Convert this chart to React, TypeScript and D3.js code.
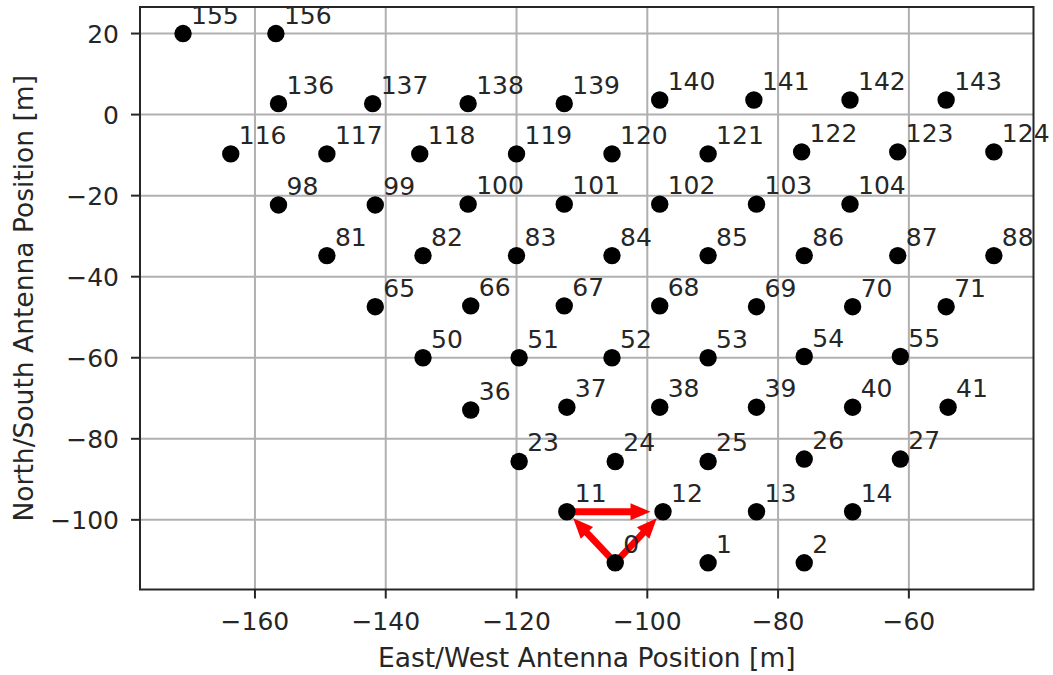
import React from "react";
import * as d3 from "d3";

// Antenna numbers and their East/West, North/South positions in metres
const antennaIds = [
  0, 1, 2, 11, 12, 13, 14, 23, 24, 25, 26, 27, 36, 37, 38, 39, 40, 41,
  50, 51, 52, 53, 54, 55, 65, 66, 67, 68, 69, 70, 71,
  81, 82, 83, 84, 85, 86, 87, 88, 98, 99, 100, 101, 102, 103, 104,
  116, 117, 118, 119, 120, 121, 122, 123, 124,
  136, 137, 138, 139, 140, 141, 142, 143, 155, 156,
];
const eastPos = [
  -104.9, -90.7, -76.0, -112.3, -97.6, -83.3, -68.6, -119.6, -104.9, -90.7, -76.0, -61.3,
  -127.0, -112.3, -98.1, -83.3, -68.6, -54.0,
  -134.3, -119.6, -105.4, -90.7, -76.0, -61.3,
  -141.6, -127.0, -112.7, -98.1, -83.3, -68.6, -54.3,
  -149.0, -134.3, -120.0, -105.4, -90.7, -76.0, -61.7, -47.0,
  -156.4, -141.6, -127.4, -112.7, -98.1, -83.3, -69.0,
  -163.7, -149.0, -134.8, -120.0, -105.4, -90.7, -76.4, -61.7, -47.0,
  -156.4, -142.0, -127.4, -112.7, -98.1, -83.7, -69.0, -54.3,
  -171.0, -156.8,
];
const northPos = [
  -110.6, -110.6, -110.6, -98.0, -98.0, -98.0, -98.0, -85.6, -85.6, -85.6, -85.0, -85.0,
  -72.9, -72.2, -72.2, -72.2, -72.2, -72.2,
  -60.0, -60.0, -60.0, -60.0, -59.7, -59.7,
  -47.4, -47.2, -47.2, -47.2, -47.4, -47.4, -47.4,
  -34.8, -34.8, -34.8, -34.8, -34.8, -34.8, -34.8, -34.8,
  -22.3, -22.3, -22.1, -22.1, -22.1, -22.1, -22.1,
  -9.7, -9.7, -9.7, -9.7, -9.7, -9.7, -9.2, -9.2, -9.2,
  2.7, 2.7, 2.7, 2.7, 3.6, 3.6, 3.6, 3.6,
  20.0, 20.0,
];

// Baselines highlighted with arrows: [from antenna, to antenna]
const baselineArrows: [number, number][] = [
  [0, 11],
  [11, 12],
  [0, 12],
];

const xTicks = [-160, -140, -120, -100, -80, -60];
const yTicks = [-100, -80, -60, -40, -20, 0, 20];

const W = 1053;
const H = 675;
const plot = { left: 140, top: 7, right: 1033.5, bottom: 589.5 };
const FONT = "'DejaVu Sans', sans-serif";
const TEXT = "#262626";

const minus = (v: number) => String(v).replace("-", "\u2212");

export default function App() {
  const x = d3.scaleLinear().domain([-177.58, -40.94]).range([plot.left, plot.right]);
  const y = d3.scaleLinear().domain([26.55, -117.19]).range([plot.top, plot.bottom]);

  const pos = (id: number) => {
    const i = antennaIds.indexOf(id);
    return [x(eastPos[i]), y(northPos[i])];
  };

  // Arrow polygon: shaft then triangular head, stopping short of the target
  const arrowPath = (a: number, b: number) => {
    const [x0, y0] = pos(a);
    const [x1, y1] = pos(b);
    const frac = 0.87;
    const dx = (x1 - x0) * frac;
    const dy = (y1 - y0) * frac;
    const len = Math.hypot(dx, dy);
    const ux = dx / len;
    const uy = dy / len;
    const px = -uy;
    const py = ux;
    const w = 3.4;
    const hw = 8.5;
    const hl = 20;
    const tx = x0 + dx;
    const ty = y0 + dy;
    const bx = tx - ux * hl;
    const by = ty - uy * hl;
    const pts = [
      [x0 + px * w, y0 + py * w],
      [bx + px * w, by + py * w],
      [bx + px * hw, by + py * hw],
      [tx, ty],
      [bx - px * hw, by - py * hw],
      [bx - px * w, by - py * w],
      [x0 - px * w, y0 - py * w],
    ];
    return d3.line()(pts as [number, number][]) + "Z";
  };

  return (
    <svg width={W} height={H} style={{ display: "block", position: "absolute", left: 0, top: 0 }}>
      <rect width={W} height={H} fill="#fff" />
      {/* grid */}
      <g stroke="#b0b0b0" strokeWidth={2}>
        {xTicks.map((t) => (
          <line key={"gx" + t} x1={x(t)} x2={x(t)} y1={plot.top} y2={plot.bottom} />
        ))}
        {yTicks.map((t) => (
          <line key={"gy" + t} x1={plot.left} x2={plot.right} y1={y(t)} y2={y(t)} />
        ))}
      </g>
      {/* baseline arrows */}
      <g fill="#ff0000">
        {baselineArrows.map(([a, b]) => (
          <path key={a + "-" + b} d={arrowPath(a, b)} />
        ))}
      </g>
      {/* antennas */}
      <g fill="#000">
        {antennaIds.map((id, i) => (
          <circle key={id} cx={x(eastPos[i])} cy={y(northPos[i])} r={8.7} />
        ))}
      </g>
      {/* antenna labels */}
      <g fontFamily={FONT} fontSize={25} fill={TEXT}>
        {antennaIds.map((id, i) => (
          <text key={id} x={x(eastPos[i]) + 8} y={y(northPos[i]) - 10}>
            {id}
          </text>
        ))}
      </g>
      {/* frame */}
      <rect
        x={plot.left}
        y={plot.top}
        width={plot.right - plot.left}
        height={plot.bottom - plot.top}
        fill="none"
        stroke="#262626"
        strokeWidth={2}
      />
      {/* axes */}
      <g fontFamily={FONT} fontSize={25} fill={TEXT}>
        {xTicks.map((t) => (
          <g key={"xt" + t}>
            <line x1={x(t)} x2={x(t)} y1={plot.bottom} y2={plot.bottom + 9} stroke="#262626" strokeWidth={2} />
            <text x={x(t)} y={630} textAnchor="middle">
              {minus(t)}
            </text>
          </g>
        ))}
        {yTicks.map((t) => (
          <g key={"yt" + t}>
            <line x1={plot.left - 9} x2={plot.left} y1={y(t)} y2={y(t)} stroke="#262626" strokeWidth={2} />
            <text x={119} y={y(t)} dy="0.36em" textAnchor="end">
              {minus(t)}
            </text>
          </g>
        ))}
        <text x={(plot.left + plot.right) / 2} y={667} textAnchor="middle" fontSize={26.5}>
          East/West Antenna Position [m]
        </text>
        <text
          transform={`translate(33,${(plot.top + plot.bottom) / 2}) rotate(-90)`}
          textAnchor="middle"
          fontSize={26.5}
        >
          North/South Antenna Position [m]
        </text>
      </g>
    </svg>
  );
}
